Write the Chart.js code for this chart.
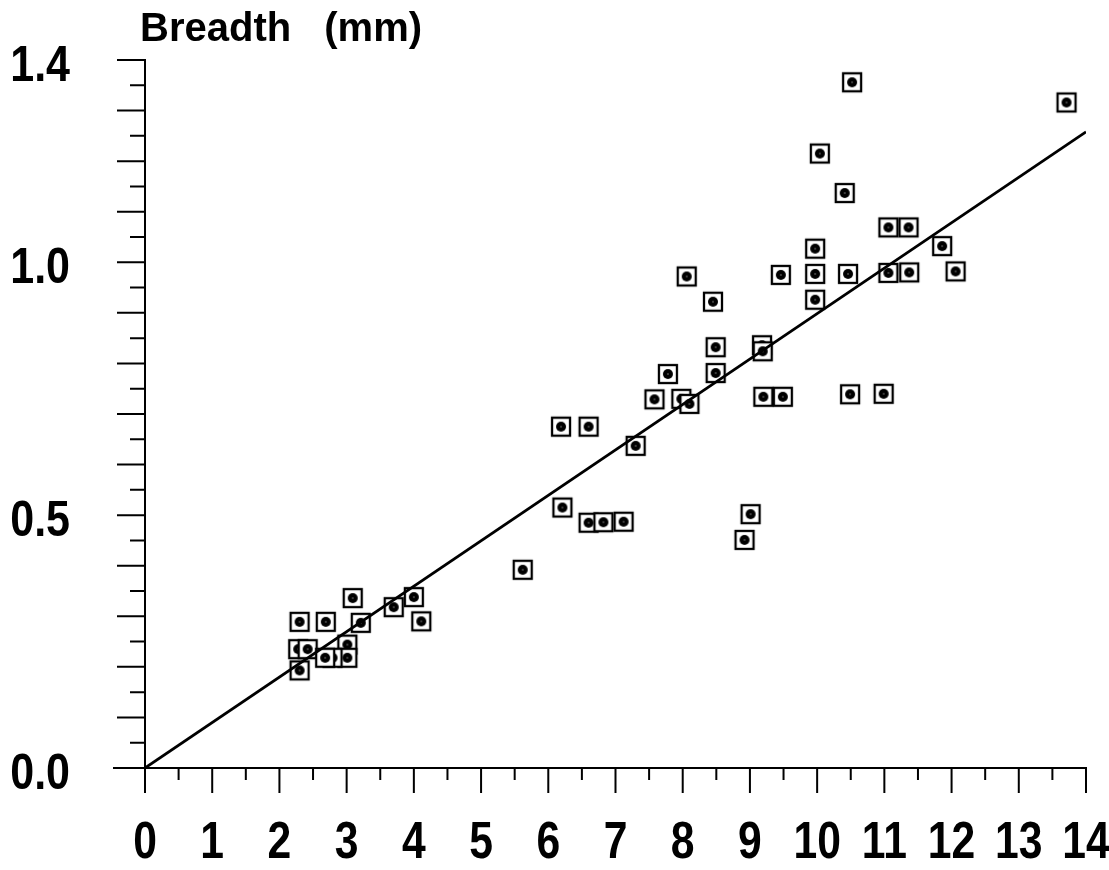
<!DOCTYPE html>
<html>
<head>
<meta charset="utf-8">
<script src="https://cdn.jsdelivr.net/npm/chart.js@4.4.1/dist/chart.umd.min.js"></script>
<style>
  html, body { margin: 0; padding: 0; background: #fff; }
  #wrap { width: 1109px; height: 870px; }
</style>
</head>
<body>
<div id="wrap"><canvas id="chart" width="1109" height="870"></canvas></div>
<script>
// length (mm) of each specimen
const lengthMm = [
  2.30, 2.30, 2.28, 2.42, 2.69, 3.09, 3.21, 3.01, 3.01, 2.79, 2.68, 3.70, 4.00, 4.11,
  5.62, 6.21, 6.60, 6.82, 7.12, 6.19, 6.60, 7.30, 7.58, 7.98, 8.10, 9.20, 9.49, 9.01,
  8.92, 7.78, 8.49, 8.49, 8.06, 8.45, 9.18, 9.19, 9.46, 9.97, 9.97, 9.97, 10.46, 11.06,
  11.37, 12.06, 11.86, 10.49, 10.99, 10.52, 13.71, 10.04, 10.41, 11.06, 11.36
];
// breadth (mm) of each specimen
const breadthMm = [
  0.193, 0.289, 0.235, 0.235, 0.289, 0.336, 0.287, 0.244, 0.218, 0.218, 0.218, 0.318, 0.338, 0.290,
  0.392, 0.515, 0.485, 0.486, 0.487, 0.675, 0.675, 0.637, 0.729, 0.730, 0.720, 0.734, 0.734, 0.502,
  0.451, 0.779, 0.832, 0.781, 0.972, 0.922, 0.836, 0.824, 0.975, 1.027, 0.977, 0.926, 0.977, 0.979,
  0.980, 0.982, 1.032, 0.739, 0.740, 1.356, 1.316, 1.215, 1.137, 1.069, 1.069
];
// fitted line through the origin
const fitX = [0, 14];
const fitY = [0, 1.258];
// y values that carry a label
const yLabelValues = [0, 0.5, 1.0, 1.4];

const labelFamily = "'Liberation Sans', Arial, sans-serif";

const xLabel = v => Number.isInteger(v) ? String(v) : '';
const yLabel = v => yLabelValues.some(l => Math.abs(l - v) < 1e-6) ? v.toFixed(1) : '';

// open square with a dot in the middle
function markerImage() {
  const c = document.createElement('canvas');
  c.width = 26;
  c.height = 26;
  const g = c.getContext('2d');
  g.fillStyle = '#fff';
  g.fillRect(4, 4, 18, 18);
  g.strokeStyle = '#000';
  g.lineWidth = 2.3;
  g.strokeRect(4, 4, 18, 18);
  g.beginPath();
  g.arc(13, 13, 5, 0, Math.PI * 2);
  g.fillStyle = '#000';
  g.fill();
  g.beginPath();
  g.arc(13, 13, 0.8, 0, Math.PI * 2);
  g.fillStyle = '#888';
  g.fill();
  return c;
}

// text squeezed horizontally, like the narrow typeface of the axis numbers
function drawSqueezed(ctx, text, x, y, squeeze, align) {
  ctx.save();
  ctx.translate(x, y);
  ctx.scale(squeeze, 1);
  ctx.textAlign = align;
  ctx.fillText(text, 0, 0);
  ctx.restore();
}

// long/short tick marks and the numbers on both axes
const axisMarks = {
  id: 'axisMarks',
  afterDraw(chart) {
    const { ctx, scales: { x, y } } = chart;
    ctx.save();
    ctx.strokeStyle = '#000';
    ctx.fillStyle = '#000';
    ctx.lineWidth = 2;
    ctx.beginPath();
    x.ticks.forEach(t => {
      const px = x.getPixelForValue(t.value);
      const len = Number.isInteger(t.value) ? 25 : 12;
      ctx.moveTo(px, x.top);
      ctx.lineTo(px, x.top + len);
    });
    y.ticks.forEach(t => {
      const py = y.getPixelForValue(t.value);
      const major = Math.abs(t.value * 10 - Math.round(t.value * 10)) < 1e-6;
      const len = t.value === 0 ? 32 : (major ? 28 : 15);
      ctx.moveTo(y.right, py);
      ctx.lineTo(y.right - len, py);
    });
    ctx.stroke();

    ctx.textBaseline = 'alphabetic';
    ctx.font = `bold 52px ${labelFamily}`;
    x.ticks.forEach(t => {
      const text = xLabel(t.value);
      if (text) drawSqueezed(ctx, text, x.getPixelForValue(t.value), x.top + 90, 0.82, 'center');
    });
    ctx.font = `bold 50px ${labelFamily}`;
    y.ticks.forEach(t => {
      const text = yLabel(t.value);
      if (text) drawSqueezed(ctx, text, 70, y.getPixelForValue(t.value) + 21, 0.86, 'right');
    });
    ctx.restore();
  }
};

// axis caption above the y axis
const axisCaption = {
  id: 'axisCaption',
  afterDraw(chart) {
    const { ctx, chartArea } = chart;
    ctx.save();
    ctx.font = `bold 40px ${labelFamily}`;
    ctx.wordSpacing = '22px';
    ctx.fillStyle = '#000';
    ctx.textBaseline = 'alphabetic';
    ctx.fillText('Breadth (mm)', chartArea.left - 5, 41);
    ctx.restore();
  }
};

new Chart(document.getElementById('chart'), {
  type: 'scatter',
  data: {
    datasets: [
      {
        type: 'line',
        data: fitX.map((v, i) => ({ x: v, y: fitY[i] })),
        borderColor: '#000',
        borderWidth: 2.8,
        pointRadius: 0,
        fill: false
      },
      {
        data: lengthMm.map((v, i) => ({ x: v, y: breadthMm[i] })),
        pointStyle: markerImage(),
        pointRadius: 10
      }
    ]
  },
  options: {
    responsive: false,
    animation: false,
    devicePixelRatio: 1,
    layout: { padding: { left: 0, right: 23, top: 60, bottom: 0 } },
    plugins: {
      legend: { display: false },
      tooltip: { enabled: false }
    },
    scales: {
      x: {
        type: 'linear',
        min: 0,
        max: 14,
        afterFit: scale => { scale.height = 102; },
        grid: { display: false, drawTicks: false },
        border: { display: true, color: '#000', width: 2 },
        ticks: { display: false, stepSize: 0.5, autoSkip: false }
      },
      y: {
        type: 'linear',
        min: 0,
        max: 1.4,
        afterFit: scale => { scale.width = 145; },
        grid: { display: false, drawTicks: false },
        border: { display: true, color: '#000', width: 2 },
        ticks: { display: false, stepSize: 0.05, autoSkip: false }
      }
    }
  },
  plugins: [axisMarks, axisCaption]
});
</script>
</body>
</html>
